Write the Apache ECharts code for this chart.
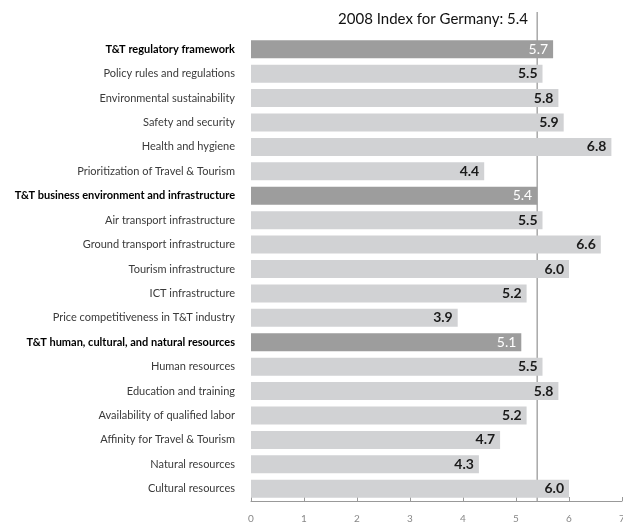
<!DOCTYPE html>
<html>
<head>
<meta charset="utf-8">
<script src="https://cdn.jsdelivr.net/npm/echarts@6/dist/echarts.min.js"></script>
<style>
  html, body { margin: 0; padding: 0; background: #fff; }
  #main { width: 623px; height: 525px; }
</style>
</head>
<body>
<div id="main"></div>
<script>
// pillar rows are the bold, darker bars
const categories = [
  'T&T regulatory framework',
  'Policy rules and regulations',
  'Environmental sustainability',
  'Safety and security',
  'Health and hygiene',
  'Prioritization of Travel & Tourism',
  'T&T business environment and infrastructure',
  'Air transport infrastructure',
  'Ground transport infrastructure',
  'Tourism infrastructure',
  'ICT infrastructure',
  'Price competitiveness in T&T industry',
  'T&T human, cultural, and natural resources',
  'Human resources',
  'Education and training',
  'Availability of qualified labor',
  'Affinity for Travel & Tourism',
  'Natural resources',
  'Cultural resources'
]
const scores = [5.7, 5.5, 5.8, 5.9, 6.8, 4.4, 5.4, 5.5, 6.6, 6.0, 5.2, 3.9, 5.1, 5.5, 5.8, 5.2, 4.7, 4.3, 6.0]
const pillars = [
  'T&T regulatory framework',
  'T&T business environment and infrastructure',
  'T&T human, cultural, and natural resources'
]
const overallIndex = 5.4
const xTicks = [0, 1, 2, 3, 4, 5, 6, 7]

const FONT = 'Lato'

const chart = echarts.init(document.getElementById('main'))

const barData = scores.map((v, i) => {
  const isPillar = pillars.indexOf(categories[i]) !== -1
  return {
    value: v,
    itemStyle: { color: isPillar ? '#9d9d9d' : '#d1d2d4' },
    label: {
      color: isPillar ? '#ffffff' : '#1a1a1a',
      fontWeight: isPillar ? 'normal' : 'bold'
    }
  }
})

const option = {
  animation: false,
  title: {
    text: '2008 Index for Germany: ' + overallIndex.toFixed(1),
    right: 90,
    top: 7,
    textStyle: {
      fontFamily: FONT,
      fontSize: 15,
      fontWeight: 'normal',
      color: '#111'
    }
  },
  grid: {
    top: 37,
    left: 251,
    right: 1,
    bottom: 24,
    containLabel: false,
    outerBoundsMode: 'none'
  },
  xAxis: {
    type: 'value',
    min: xTicks[0],
    max: xTicks[xTicks.length - 1],
    interval: 1,
    axisLine: { show: true, lineStyle: { color: '#999', width: 1 } },
    axisTick: { show: true, inside: true, length: 4, lineStyle: { color: '#999' } },
    axisLabel: {
      margin: 13,
      color: '#888',
      fontFamily: FONT,
      fontSize: 10
    },
    splitLine: { show: false }
  },
  yAxis: {
    type: 'category',
    inverse: true,
    data: categories,
    axisLine: { show: false },
    axisTick: { show: false },
    axisLabel: {
      margin: 16,
      fontFamily: FONT,
      fontSize: 11,
      color: '#3a3a3a',
      formatter: v => pillars.indexOf(v) !== -1 ? '{b|' + v + '}' : v,
      rich: {
        b: { fontFamily: FONT, fontSize: 11, fontWeight: 'bold', color: '#000' }
      }
    }
  },
  series: [
    {
      type: 'bar',
      data: barData,
      barWidth: 18,
      z: 5,
      label: {
        show: true,
        position: 'insideRight',
        distance: 5,
        fontFamily: FONT,
        fontSize: 14,
        formatter: p => p.value.toFixed(1)
      }
    }
  ]
}

chart.setOption(option)

// overall-index reference line, placed through the axis scale,
// sits behind the bars and runs from under the title to the axis line
const xRef = chart.convertToPixel({ xAxisIndex: 0 }, overallIndex)
const gridRect = chart.getModel().getComponent('grid').coordinateSystem.getRect()
chart.setOption({
  graphic: [
    {
      type: 'line',
      z: 0,
      shape: { x1: xRef, y1: 12, x2: xRef, y2: gridRect.y + gridRect.height },
      style: { stroke: '#a8a8a8', lineWidth: 1.5 }
    }
  ]
})
</script>
</body>
</html>
